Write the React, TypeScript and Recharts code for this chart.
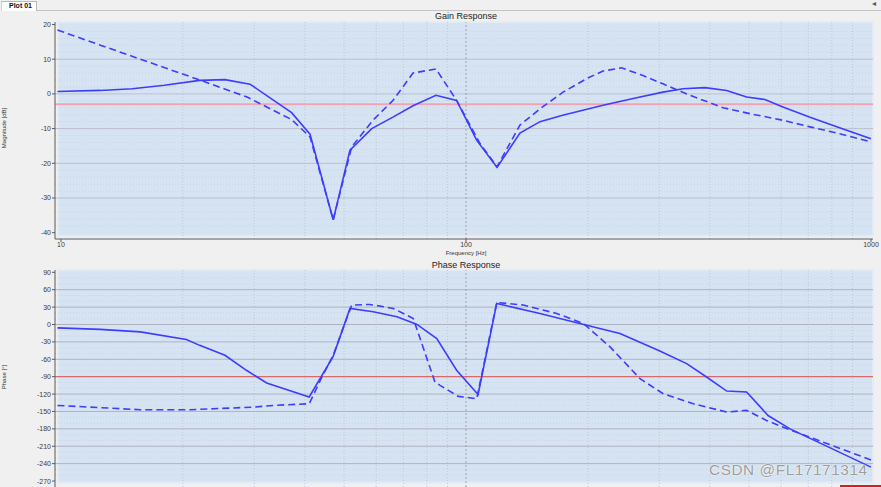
import React from 'react';
import { LineChart, Line, XAxis, YAxis, ReferenceArea, ReferenceLine } from 'recharts';

// ---------- data ----------
const gainSolidFreq = [9.8, 12.5, 15, 18, 22, 25.4, 29.3, 37.1, 41.2, 47.0, 51.7, 58.5, 66, 74, 84.3, 94.8, 106.3, 119.3, 135.9, 152.3, 172.3, 217.9, 263.8, 306.4, 343.5, 389, 440, 493, 547, 606, 707, 823, 1000];
const gainSolidDb = [0.7, 1.0, 1.5, 2.5, 3.9, 4.1, 2.8, -5.4, -11.6, -36.3, -16.2, -10, -6.7, -3.4, -0.4, -1.9, -13.4, -21.2, -11.3, -8.0, -6.2, -3.3, -1.1, 0.5, 1.5, 1.8, 1.0, -0.9, -1.6, -3.8, -6.7, -9.5, -12.9];

const gainDashFreq = [9.8, 22, 28.8, 37.1, 41.2, 47.0, 52.2, 58.9, 66, 74, 84.3, 94.8, 108.3, 119.3, 135.9, 152.3, 173.6, 198.6, 217.9, 242.1, 273.5, 306.4, 357.4, 431.5, 502.6, 606, 707, 823, 1000];
const gainDashDb = [18.4, 4.0, -0.9, -7.4, -12.4, -36.3, -15.3, -7.6, -1.9, 6.0, 7.2, -1.9, -14.3, -21, -9, -4.3, 0.5, 4.4, 6.6, 7.5, 5.3, 2.9, -0.4, -4.0, -5.7, -7.6, -9.5, -11.3, -13.8];

const phaseSolidFreq = [9.8, 12.5, 15.7, 20.4, 22, 25.4, 28.7, 32.2, 41.0, 47.0, 51.7, 59.0, 67.5, 75.5, 84.7, 94.8, 107.1, 119.1, 152.3, 198.6, 240, 301, 350.6, 392.6, 440.3, 493, 557, 631, 1000];
const phaseSolidDeg = [-5.8, -8.5, -12.7, -26, -36, -53, -79, -101, -125, -55, 27.7, 21.9, 13.3, 0.6, -24.2, -79, -120.6, 36.3, 19, -1.2, -15.6, -45.6, -67.5, -90.6, -114.8, -116.5, -157, -180, -246];

const phaseDashFreq = [9.8, 15.7, 20.8, 29.9, 33.4, 41.0, 44.1, 47.0, 52.2, 57.9, 66.1, 74.1, 83.8, 86.3, 95.7, 106.3, 119.1, 138.5, 167.5, 195, 226.8, 269, 306.9, 364, 440.3, 493, 552, 631, 1000];
const phaseDashDeg = [-139.6, -147, -147, -142.5, -139.6, -136.7, -90.6, -53, 33.5, 34.6, 27.7, 10.4, -99.2, -105, -124, -128, 38, 33.5, 19, 1.7, -38.7, -93.5, -119.5, -136.7, -151, -148, -165.6, -181.7, -233.6];

const freqTicks = [10, 100, 1000];
const freqMinor = [20, 30, 40, 50, 60, 70, 80, 90, 200, 300, 400, 500, 600, 700, 800, 900];
const gainTicks = [-40, -30, -20, -10, 0, 10, 20];
const phaseTicks = [-270, -240, -210, -180, -150, -120, -90, -60, -30, 0, 30, 60, 90];
const gainRef = -3;
const phaseRef = -90;

const gainMinor: number[] = [];
for (let v = -38; v <= 18; v += 2) if (v % 10 !== 0) gainMinor.push(v);
const phaseMinor: number[] = [];
for (let v = -260; v <= 80; v += 10) if (v % 30 !== 0) phaseMinor.push(v);

const zip = (fs: number[], vs: number[]) => fs.map((f, i) => ({ f, v: vs[i] }));
const gainSolid = zip(gainSolidFreq, gainSolidDb);
const gainDash = zip(gainDashFreq, gainDashDb);
const phaseSolid = zip(phaseSolidFreq, phaseSolidDeg);
const phaseDash = zip(phaseDashFreq, phaseDashDeg);

// ---------- styling ----------
const FONT = '"Liberation Sans", Arial, sans-serif';
const X_DOMAIN: [number, number] = [9.665, 1011.4];
const BG_X1 = 9.831;
const LINE_COLOR = '#3d3dff';
const PLOT_BG = '#d6e3f2';
const tickStyle = { fontSize: 7, fill: '#3a3a3a', fontFamily: FONT };

function gridLines(majorY: number[], minorY: number[], majorColor: string) {
  return [
    ...minorY.map((y) => (
      <ReferenceLine key={'my' + y} y={y} stroke="#cad4e2" strokeDasharray="1 2" strokeWidth={1} />
    )),
    ...freqMinor.map((f) => (
      <ReferenceLine key={'vx' + f} x={f} stroke="#bec8d6" strokeDasharray="1 2" strokeWidth={1} />
    )),
    ...majorY.map((y) => <ReferenceLine key={'My' + y} y={y} stroke={majorColor} strokeWidth={1} />),
    <ReferenceLine key="v100" x={100} stroke="#9ea3ae" strokeDasharray="2 2" strokeWidth={1} />,
  ];
}

function GainChart() {
  return (
    <LineChart width={881} height={260} margin={{ top: 22, right: 8, bottom: 0, left: 0 }}>
      <XAxis
        type="number"
        dataKey="f"
        scale="log"
        domain={X_DOMAIN}
        allowDataOverflow
        ticks={freqTicks}
        interval={0}
        height={21}
        tickSize={3}
        tickMargin={0}
        tick={tickStyle}
        stroke="#5a5a5a"
      />
      <YAxis
        type="number"
        dataKey="v"
        domain={[-41.82, 20.72]}
        allowDataOverflow
        ticks={gainTicks}
        interval={0}
        width={55}
        tickSize={3}
        tickMargin={1}
        tick={tickStyle}
        stroke="#5a5a5a"
      />
      <ReferenceArea x1={BG_X1} x2={X_DOMAIN[1]} y1={-40.96} y2={20.72} fill={PLOT_BG} fillOpacity={1} stroke="#e3ebf6" strokeWidth={2} />
      {gridLines(gainTicks.filter((t) => t > -40 && t < 20), gainMinor, '#bcbfcc')}
      <ReferenceLine y={gainRef} stroke="#f2a3b3" strokeWidth={2} />
      <Line data={gainSolid} dataKey="v" type="linear" stroke={LINE_COLOR} strokeWidth={1.6} dot={false} isAnimationActive={false} />
      <Line data={gainDash} dataKey="v" type="linear" stroke={LINE_COLOR} strokeWidth={1.6} strokeDasharray="7 4" dot={false} isAnimationActive={false} />
    </LineChart>
  );
}

function PhaseChart() {
  return (
    <LineChart width={881} height={225} margin={{ top: 8, right: 8, bottom: 0, left: 0 }}>
      <XAxis type="number" dataKey="f" scale="log" domain={X_DOMAIN} allowDataOverflow ticks={freqTicks} hide />
      <YAxis
        type="number"
        dataKey="v"
        domain={[-280.3, 94]}
        allowDataOverflow
        ticks={phaseTicks}
        interval={0}
        width={55}
        tickSize={3}
        tickMargin={1}
        tick={tickStyle}
        stroke="#5a5a5a"
      />
      <ReferenceArea x1={BG_X1} x2={X_DOMAIN[1]} y1={-273} y2={94} fill={PLOT_BG} fillOpacity={1} stroke="#e3ebf6" strokeWidth={2} />
      {gridLines(phaseTicks.filter((t) => t > -270 && t < 90), phaseMinor, '#b0b3bd')}
      <ReferenceLine y={phaseRef} stroke="#e05a5a" strokeWidth={1} />
      <Line data={phaseSolid} dataKey="v" type="linear" stroke={LINE_COLOR} strokeWidth={1.6} dot={false} isAnimationActive={false} />
      <Line data={phaseDash} dataKey="v" type="linear" stroke={LINE_COLOR} strokeWidth={1.6} strokeDasharray="7 4" dot={false} isAnimationActive={false} />
    </LineChart>
  );
}

const abs = (s: React.CSSProperties): React.CSSProperties => ({ position: 'absolute', ...s });

export default function App() {
  return (
    <div style={abs({ left: 0, top: 0, width: 881, height: 487, background: '#f0f0f0', overflow: 'hidden', fontFamily: FONT })}>
      {/* tab strip */}
      <div style={abs({ left: 36, top: 10, width: 845, height: 1, background: '#c4c4c4' })} />
      <div style={abs({ left: 1, top: 1, width: 34, height: 9, background: '#ffffff', borderTop: '1px solid #b8b8b8', borderRight: '1px solid #b8b8b8', borderLeft: '1px solid #d0d0d0' })} />
      <div style={abs({ left: 9, top: 1, fontSize: 7, fontWeight: 'bold', lineHeight: '10px', color: '#111' })}>Plot 01</div>
      <div style={abs({ left: 872, top: -1, fontSize: 8, lineHeight: '10px', color: '#555' })}>◂</div>

      <div style={abs({ left: 0, top: 0 })}>
        <GainChart />
      </div>
      <div style={abs({ left: 0, top: 262 })}>
        <PhaseChart />
      </div>

      {/* titles */}
      <div style={abs({ left: 366, top: 11, width: 200, textAlign: 'center', fontSize: 9, lineHeight: '10px', color: '#222' })}>Gain Response</div>
      <div style={abs({ left: 366, top: 260, width: 200, textAlign: 'center', fontSize: 9, lineHeight: '10px', color: '#222' })}>Phase Response</div>
      <div style={abs({ left: 366, top: 249, width: 200, textAlign: 'center', fontSize: 6, lineHeight: '8px', color: '#333' })}>Frequency [Hz]</div>
      <div style={abs({ left: -36, top: 124, width: 80, height: 8, textAlign: 'center', fontSize: 6, lineHeight: '8px', color: '#333', transform: 'rotate(-90deg)' })}>Magnitude [dB]</div>
      <div style={abs({ left: -36, top: 373, width: 80, height: 8, textAlign: 'center', fontSize: 6, lineHeight: '8px', color: '#333', transform: 'rotate(-90deg)' })}>Phase [°]</div>

      {/* watermark */}
      <div style={abs({ left: 709, top: 461, fontSize: 15.3, lineHeight: '18px', color: '#9c9c9c', letterSpacing: 0.6, textShadow: '0 0 2px #ffffff, 0 0 1px #ffffff' })}>CSDN @FL17171314</div>
      <div style={abs({ left: 840, top: 485, width: 41, height: 2, background: '#d02020' })} />
    </div>
  );
}
